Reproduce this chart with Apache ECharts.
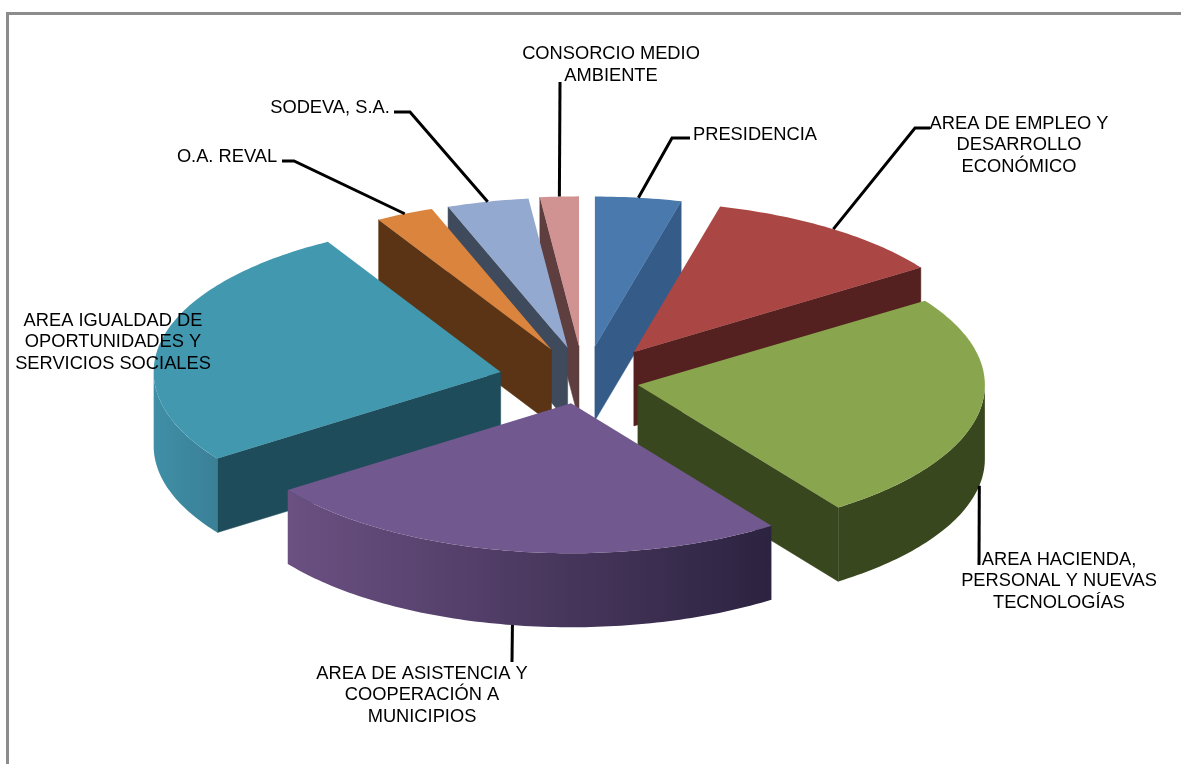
<!DOCTYPE html>
<html>
<head>
<meta charset="utf-8">
<style>
  html, body { margin: 0; padding: 0; background: #fff; }
  #chart { width: 1181px; height: 764px; }
</style>
<script src="https://cdn.jsdelivr.net/npm/echarts@6/dist/echarts.min.js"></script>
</head>
<body>
<div id="chart"></div>
<script>
// shares, in percent, clockwise from 12 o'clock
const names = [
  "PRESIDENCIA",
  "AREA DE EMPLEO Y\nDESARROLLO\nECONÓMICO",
  "AREA HACIENDA,\nPERSONAL Y NUEVAS\nTECNOLOGÍAS",
  "AREA DE ASISTENCIA Y\nCOOPERACIÓN A\nMUNICIPIOS",
  "AREA IGUALDAD DE\nOPORTUNIDADES Y\nSERVICIOS SOCIALES",
  "O.A. REVAL",
  "SODEVA, S.A.",
  "CONSORCIO MEDIO\nAMBIENTE",
];
const values = [4.0, 11.5, 24.7, 25.0, 26.5, 2.7, 3.8, 1.8];

const topColors = ["#4a7aad", "#aa4643", "#89a54e", "#71588f", "#4198af", "#db843d", "#93a9cf", "#d19392"];
const cutColors = ["#355b88", "#552020", "#39471e", "#4f3c66", "#1f4c5a", "#5a3414", "#3f4a5c", "#5e3e3e"];
const wallFrom = ["#355b88", "#552020", "#39471e", "#6b5082", "#3f8fa6", "#5a3414", "#3f4a5c", "#5e3e3e"];
const wallTo = ["#355b88", "#552020", "#39471e", "#2c2340", "#3a8097", "#5a3414", "#3f4a5c", "#5e3e3e"];

// layout of the 3d pie, in pixels
const centerX = 578;
const centerY = 375.5;
const radiusX = 347;
const radiusY = 150;
const depth = 74;
const explode = 71;
// excel's perspective moves the pulled out slices a bit off their own axis
const pullX = [8, 15, -10, 5, -8, 3.5, 6, 5];
const pullY = [1.5, 1.5, 4, -2.5, 3, 2, 2, 1.5];

// where the labels sit (text centre) and the leader's path towards them
const labelPos = [[755, 135], [1019, 145], [1059, 581], [422, 695], [113, 342], [227, 157], [330, 108], [611, 65]];
const leaderPath = [
  [[672, 138], [690, 138]],
  [[915, 128], [930, 128]],
  [[979, 565]],
  [[512, 662]],
  null,
  [[294, 161], [282, 161]],
  [[410, 112], [394, 112]],
  [[560, 82]],
];

const total = values.reduce((a, b) => a + b, 0);
const startAngles = [];
values.reduce((sum, v, i) => {
  startAngles[i] = (sum / total) * 2 * Math.PI;
  return sum + v;
}, 0);

function rim(apex, angle, drop) {
  return [
    apex[0] + radiusX * Math.sin(angle),
    apex[1] - radiusY * Math.cos(angle) + drop,
  ];
}

function arcPoints(apex, from, to, drop) {
  const pts = [];
  const steps = Math.max(2, Math.ceil(((to - from) * 180) / Math.PI));
  for (let s = 0; s <= steps; s++) {
    pts.push(rim(apex, from + ((to - from) * s) / steps, drop));
  }
  return pts;
}

function cutFace(apex, angle, color, z2) {
  const a = rim(apex, angle, 0);
  const b = rim(apex, angle, depth);
  return {
    type: "polygon",
    z2: z2,
    shape: { points: [apex, a, b, [apex[0], apex[1] + depth]] },
    style: { fill: color, stroke: color, lineWidth: 0.5 },
  };
}

function renderSlice(params, api) {
  const i = params.dataIndex;
  const from = startAngles[i];
  const to = from + (api.value(0) / total) * 2 * Math.PI;
  const mid = (from + to) / 2;
  const apex = [
    centerX + explode * Math.sin(mid) + pullX[i],
    centerY - (explode * radiusY * Math.cos(mid)) / radiusX + pullY[i],
  ];

  // back slices are painted first
  const z2 = Math.round((1 - Math.cos(mid)) * 100);
  const children = [];

  if (Math.sin(from) < -0.001) children.push(cutFace(apex, from, cutColors[i], z2));
  if (Math.sin(to) > 0.001) children.push(cutFace(apex, to, cutColors[i], z2));

  // outer wall, only the part that faces the viewer
  const wallA = Math.max(from, Math.PI / 2);
  const wallB = Math.min(to, (3 * Math.PI) / 2);
  if (wallB > wallA) {
    const upper = arcPoints(apex, wallA, wallB, 0);
    const lower = arcPoints(apex, wallA, wallB, depth).reverse();
    const x0 = Math.min(rim(apex, wallA, 0)[0], rim(apex, wallB, 0)[0]);
    const x1 = Math.max(rim(apex, wallA, 0)[0], rim(apex, wallB, 0)[0]);
    // wall gradient runs the same way on the page, left to right
    const fill = new echarts.graphic.LinearGradient(
      x0, 0, x1, 0,
      [{ offset: 0, color: wallFrom[i] }, { offset: 1, color: wallTo[i] }],
      true
    );
    children.push({
      type: "polygon",
      z2: z2,
      shape: { points: upper.concat(lower) },
      style: { fill: fill },
    });
  }

  // top surface
  children.push({
    type: "polygon",
    z2: z2 + 1,
    shape: { points: [apex].concat(arcPoints(apex, from, to, 0)) },
    style: { fill: topColors[i] },
  });

  // leader line starts on the rim, on the lower edge when the wall is showing
  if (leaderPath[i]) {
    const start = rim(apex, mid, Math.cos(mid) < 0 ? depth : 0);
    children.push({
      type: "polyline",
      z2: 500,
      shape: { points: [start].concat(leaderPath[i]) },
      style: { stroke: "#000", lineWidth: 3, fill: "none" },
    });
  }

  children.push({
    type: "text",
    z2: 600,
    style: {
      x: labelPos[i][0],
      y: labelPos[i][1],
      text: api.value(1),
      fill: "#000",
      font: '18.3px "Liberation Sans"',
      lineHeight: 21.5,
      align: "center",
      verticalAlign: "middle",
    },
  });

  return { type: "group", children: children };
}

const chart = echarts.init(document.getElementById("chart"), null, { renderer: "canvas" });

chart.setOption({
  backgroundColor: "#fff",
  animation: false,
  graphic: [
    {
      type: "rect",
      z: -1,
      shape: { x: 7.5, y: 13.5, width: 1300, height: 900 },
      style: { fill: "#fff", stroke: "#8c8c8c", lineWidth: 3 },
    },
  ],
  series: [
    {
      type: "custom",
      coordinateSystem: "none",
      renderItem: renderSlice,
      silent: true,
      data: values.map((v, i) => [v, names[i]]),
    },
  ],
});

window.addEventListener("resize", () => {
  chart.resize();
});
</script>
</body>
</html>
